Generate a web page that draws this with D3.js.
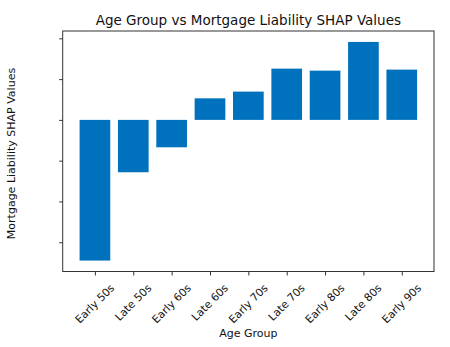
<!DOCTYPE html>
<html>
<head>
<meta charset="utf-8">
<script src="https://cdn.jsdelivr.net/npm/d3@7"></script>
<style>
  html, body { margin: 0; padding: 0; background: #fff; }
  svg { display: block; font-family: "DejaVu Sans", sans-serif; }
</style>
</head>
<body>
<svg id="chart" width="450" height="347"></svg>
<script>
const categories = ["Early 50s", "Late 50s", "Early 60s", "Late 60s", "Early 70s", "Late 70s", "Early 80s", "Late 80s", "Early 90s"];
const shapValues = [-0.0345, -0.01284, -0.00672, 0.00529, 0.00694, 0.01257, 0.01208, 0.01912, 0.01233];
const yTicks = [-0.03, -0.02, -0.01, 0, 0.01, 0.02];
const titleText = "Age Group vs Mortgage Liability SHAP Values";
const xLabel = "Age Group";
const yLabel = "Mortgage Liability SHAP Values";

const svg = d3.select("#chart");
const plot = { left: 62.7, right: 434, top: 31, bottom: 271.5 };

const barW = 0.8;
const xMinData = -barW / 2, xMaxData = categories.length - 1 + barW / 2;
const xPad = (xMaxData - xMinData) * 0.05;
const x = d3.scaleLinear().domain([xMinData - xPad, xMaxData + xPad]).range([plot.left, plot.right]);

const yMinData = Math.min(0, d3.min(shapValues)), yMaxData = Math.max(0, d3.max(shapValues));
const yPad = (yMaxData - yMinData) * 0.05;
const y = d3.scaleLinear().domain([yMinData - yPad, yMaxData + yPad]).range([plot.bottom, plot.top]);

const barColor = "#0072bd";

svg.append("g").selectAll("rect").data(shapValues).join("rect")
  .attr("x", (d, i) => x(i - barW / 2))
  .attr("width", (d, i) => x(i + barW / 2) - x(i - barW / 2))
  .attr("y", d => y(Math.max(0, d)))
  .attr("height", d => Math.abs(y(d) - y(0)))
  .attr("fill", barColor);

const yAxis = d3.axisLeft(y).tickValues(yTicks).tickFormat("").tickSize(3.5).tickSizeOuter(0);
const gy = svg.append("g").attr("transform", `translate(${plot.left},0)`).call(yAxis);
gy.select(".domain").remove();
gy.selectAll("line").attr("stroke", "#333").attr("stroke-width", 1);

const xAxis = d3.axisBottom(x).tickValues(d3.range(categories.length)).tickFormat("").tickSize(4).tickSizeOuter(0);
const gx = svg.append("g").attr("transform", `translate(0,${plot.bottom})`).call(xAxis);
gx.select(".domain").remove();
gx.selectAll("line").attr("stroke", "#333").attr("stroke-width", 1);

svg.append("rect")
  .attr("x", plot.left).attr("y", plot.top)
  .attr("width", plot.right - plot.left).attr("height", plot.bottom - plot.top)
  .attr("fill", "none").attr("stroke", "#333").attr("stroke-width", 1);

const fs = 10.8;
const labelTop = 282;
categories.forEach((c, i) => {
  const t = svg.append("text")
    .attr("font-size", fs)
    .attr("fill", "#111")
    .attr("text-anchor", "middle")
    .attr("dominant-baseline", "central")
    .text(c);
  const len = t.node().getComputedTextLength();
  const h = fs * 1.1;
  const bh = (len + h) / Math.SQRT2;
  t.attr("transform", `translate(${x(i)},${labelTop + bh / 2}) rotate(-45)`);
});

svg.append("text")
  .attr("x", (plot.left + plot.right) / 2).attr("y", 25)
  .attr("text-anchor", "middle").attr("font-size", 13.5).attr("fill", "#111")
  .text(titleText);

svg.append("text")
  .attr("x", (plot.left + plot.right) / 2).attr("y", 337)
  .attr("text-anchor", "middle").attr("font-size", 11).attr("fill", "#111")
  .text(xLabel);

svg.append("text")
  .attr("transform", `translate(15,153.5) rotate(-90)`)
  .attr("text-anchor", "middle").attr("font-size", 11).attr("fill", "#111")
  .text(yLabel);
</script>
</body>
</html>
